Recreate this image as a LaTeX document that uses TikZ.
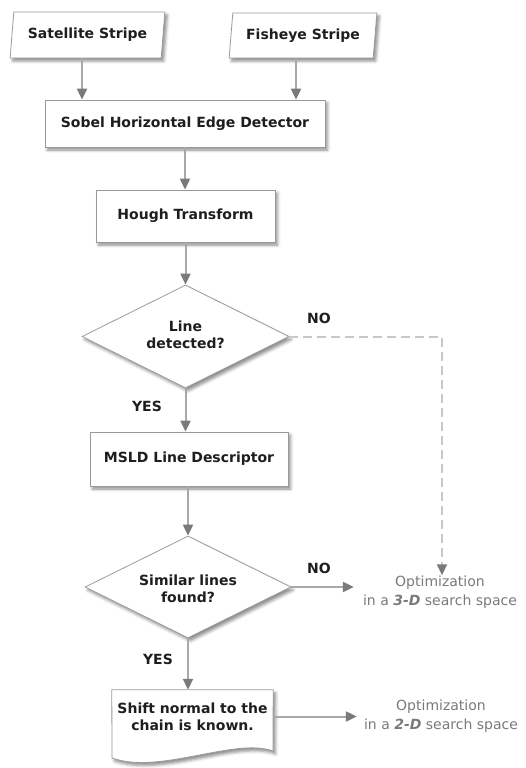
\documentclass[tikz,border=0pt]{standalone}
\usepackage{fontspec}
\setmainfont{DejaVu Sans}
\usetikzlibrary{arrows.meta,shapes.geometric,shadows.blur}

\definecolor{edge}{HTML}{9A9A9A}
\definecolor{link}{HTML}{A8A8A8}
\definecolor{tip}{HTML}{7A7A7A}
\definecolor{dash}{HTML}{C8C8C8}
\definecolor{ink}{HTML}{1E1E1E}
\definecolor{note}{HTML}{7A7A7A}

\tikzset{
  shade/.style={blur shadow={shadow xshift=2.5pt, shadow yshift=-3pt, shadow blur radius=3pt, shadow opacity=45}},
  box/.style={draw=edge, line width=0.8pt, fill=white, shade, inner sep=0pt,
    font=\fontsize{14}{17}\selectfont\bfseries, text=ink, align=center},
  procbox/.style={box, rectangle},
  iobox/.style={box, trapezium, trapezium left angle=77.7, trapezium right angle=102.3,
    trapezium stretches=true},
  decide/.style={box, diamond},
  arr/.style={draw=link, line width=2pt, -{Triangle[length=11pt, width=10pt, color=tip]}},
  noarr/.style={draw=dash, line width=2pt, dash pattern=on 9pt off 5pt,
    -{Triangle[length=11pt, width=10pt, color=tip]}},
  tag/.style={font=\fontsize{14}{17}\selectfont\bfseries, text=ink},
  result/.style={font=\fontsize{14}{19.5}\selectfont, text=note, align=center, inner sep=0pt},
}

\begin{document}
\begin{tikzpicture}[x=1pt, y=-1pt]
\useasboundingbox (0,0) rectangle (525,768);

% inputs
\node[iobox, minimum width=155, minimum height=46] (sat) at (87.5,35) {Satellite Stripe};
\node[iobox, minimum width=148, minimum height=45] (fish) at (303,35.5) {Fisheye Stripe};

% processing chain
\node[procbox, minimum width=280, minimum height=47] (sobel) at (185,123.5) {Sobel Horizontal Edge Detector};
\node[procbox, minimum width=179, minimum height=52] (hough) at (185.5,216) {Hough Transform};
\node[decide, minimum width=207, minimum height=103] (det) at (185.5,336.5) {};
\node[tag, align=center, inner sep=0pt] at (185.5,334.5) {Line\\detected?};
\node[procbox, minimum width=198, minimum height=54] (msld) at (189,459) {MSLD Line Descriptor};
\node[decide, minimum width=206, minimum height=102] (sim) at (188,587) {};
\node[tag, align=center, inner sep=0pt] at (188,589) {Similar lines\\found?};

% document shape with wavy lower edge
\node[inner sep=0pt, minimum width=161, minimum height=53] (doc) at (192.5,716.5) {};
\path[draw=edge, line width=0.8pt, fill=white, shade]
  (doc.north west) -- (doc.north east) -- (273,751)
  .. controls (235,737) and (160,775) .. (112,758) -- cycle;
\node[tag, align=center, inner sep=0pt] at (doc.center) {Shift normal to the\\chain is known.};

% outcomes
\node[result] (opt3) at (440,592) {Optimization\\in a \textbf{\textit{3-D}} search space};
\node[result] (opt2) at (441,716) {Optimization\\in a \textbf{\textit{2-D}} search space};

% connectors
\draw[arr] ([xshift=-5.5pt]sat.south) -- ([xshift=-5.5pt]sat.south |- sobel.north);
\draw[arr] ([xshift=-7pt]fish.south) -- ([xshift=-7pt]fish.south |- sobel.north);
\draw[arr] (sobel.south) -- (sobel.south |- hough.north);
\draw[arr] (hough.south) -- (det.north);
\draw[arr] (det.south) -- (det.south |- msld.north);
\draw[arr] (msld.south -| sim.north) -- (sim.north);
\draw[arr] (sim.south) -- (sim.south |- doc.north);
\draw[arr] (sim.east) -- ([xshift=-9pt]opt3.west |- sim.east);
\draw[arr] (doc.east) -- ([xshift=-7pt]opt2.west |- doc.east);
\coordinate (bend) at (442,336.5);
\draw[noarr] (det.east) -- (bend) -- (bend |- opt3.north);

% branch labels
\node[tag] at (319,318) {NO};
\node[tag] at (147,406) {YES};
\node[tag] at (319,568) {NO};
\node[tag] at (158,659) {YES};
\end{tikzpicture}
\end{document}
